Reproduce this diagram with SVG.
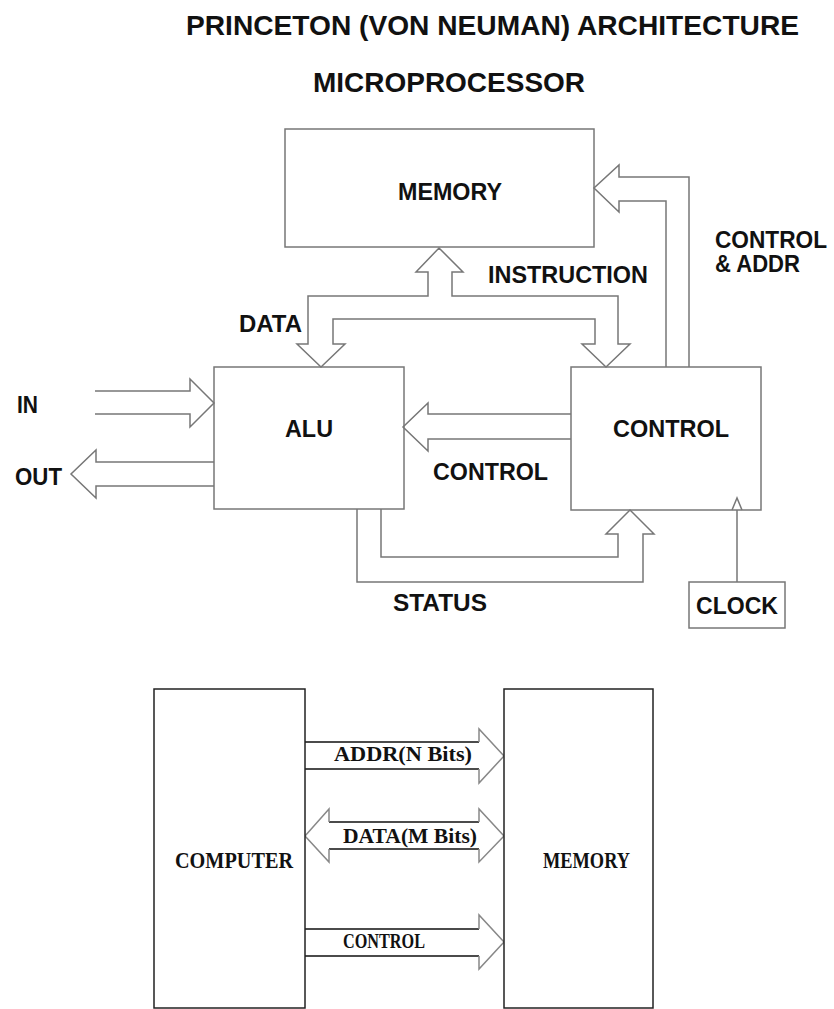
<svg xmlns="http://www.w3.org/2000/svg" width="834" height="1009" viewBox="0 0 834 1009">
<style>
.bg{fill:#fff}
.box{fill:#fff;stroke:#777;stroke-width:1.5}
.bus{fill:none;stroke:#777;stroke-width:1.5;stroke-linejoin:miter}
.lbl{font-family:"Liberation Sans",Arial,sans-serif;font-weight:bold;font-size:23px;fill:#111}
.ttl{font-family:"Liberation Sans",Arial,sans-serif;font-weight:bold;font-size:28px;fill:#111}
.box2{fill:#fff;stroke:#222;stroke-width:1.5}
.shaft{fill:none;stroke:#111;stroke-width:1.5}
.head{fill:none;stroke:#888;stroke-width:1.5}
.mono{font-family:"Liberation Serif","Times New Roman",serif;font-weight:bold;fill:#111}
</style>
<rect class="bg" x="0" y="0" width="834" height="1009"/>
<g id="titles">
<text class="ttl" x="186" y="35" textLength="613" lengthAdjust="spacingAndGlyphs">PRINCETON (VON NEUMAN) ARCHITECTURE</text>
<text class="ttl" x="313" y="92" textLength="272" lengthAdjust="spacingAndGlyphs">MICROPROCESSOR</text>
</g>
<g id="memory">
<rect class="box" x="285" y="129" width="309" height="118"/>
<text class="lbl" x="398" y="200" textLength="104" lengthAdjust="spacingAndGlyphs">MEMORY</text>
</g>
<g id="alu">
<rect class="box" x="214" y="367" width="190" height="142"/>
<text class="lbl" x="285" y="437" textLength="48" lengthAdjust="spacingAndGlyphs">ALU</text>
</g>
<g id="control">
<rect class="box" x="571" y="367" width="190" height="143"/>
<text class="lbl" x="613" y="437" textLength="116" lengthAdjust="spacingAndGlyphs">CONTROL</text>
</g>
<g id="clock">
<rect class="box" x="689" y="582" width="96" height="46"/>
<text class="lbl" x="696" y="614" textLength="82" lengthAdjust="spacingAndGlyphs">CLOCK</text>
</g>
<g id="connectors">
<path class="bus" d="M439,248 L463,272 H452 V296 H618 V344 H630 L606,367 L582,344 H595 V319 H333 V344 H345 L321,367 L297,344 H308 V296 H428 V272 H416 Z"/>
<path class="bus" d="M95,391 H190 V379 L214,403 L190,427 V414 H95"/>
<path class="bus" d="M214,462 H96 V450 L71,474 L96,498 V486 H214"/>
<path class="bus" d="M571,414 H428 V403 L403,427 L428,451 V439 H571"/>
<path class="bus" d="M381,509 V557 H618 V534 H606 L630,510 L654,534 H643 V582 H357 V509"/>
<path class="bus" d="M666,367 V201 H619 V212 L594,188 L619,165 V177 H689 V367"/>
<path class="bus" d="M737,582 V510 M732,510 L737,498 L742,510"/>
<path class="shaft" d="M305,742 H479 M305,769 H479"/>
<path class="head" d="M479,742 V729 L504,756 L479,783 V769"/>
<path class="shaft" d="M329,822 H479 M329,849 H479"/>
<path class="head" d="M479,822 V809 L504,836 L479,862 V849 M329,822 V809 L305,836 L329,862 V849"/>
<path class="shaft" d="M305,929 H479 M305,956 H479"/>
<path class="head" d="M479,929 V915 L504,942 L479,969 V956"/>
</g>
<g id="labels">
<text class="lbl" x="488" y="283" textLength="160" lengthAdjust="spacingAndGlyphs">INSTRUCTION</text>
<text class="lbl" x="239" y="332" textLength="63" lengthAdjust="spacingAndGlyphs">DATA</text>
<text class="lbl" x="17" y="413" textLength="21" lengthAdjust="spacingAndGlyphs">IN</text>
<text class="lbl" x="15" y="485" textLength="47" lengthAdjust="spacingAndGlyphs">OUT</text>
<text class="lbl" x="433" y="480" textLength="115" lengthAdjust="spacingAndGlyphs">CONTROL</text>
<text class="lbl" x="393" y="611" textLength="94" lengthAdjust="spacingAndGlyphs">STATUS</text>
<text class="lbl" x="715" y="248" textLength="112" lengthAdjust="spacingAndGlyphs">CONTROL</text>
<text class="lbl" x="715" y="272" textLength="85" lengthAdjust="spacingAndGlyphs">&amp; ADDR</text>
</g>
<g id="computer">
<rect class="box2" x="154" y="689" width="151" height="319"/>
<text class="mono" x="175" y="868" font-size="24" textLength="118" lengthAdjust="spacingAndGlyphs">COMPUTER</text>
</g>
<g id="memory2">
<rect class="box2" x="504" y="689" width="149" height="319"/>
<text class="mono" x="543" y="868" font-size="24" textLength="87" lengthAdjust="spacingAndGlyphs">MEMORY</text>
</g>
<g id="bus-labels">
<text class="mono" x="334" y="761" font-size="20" textLength="138" lengthAdjust="spacingAndGlyphs">ADDR(N Bits)</text>
<text class="mono" x="343" y="843" font-size="20" textLength="134" lengthAdjust="spacingAndGlyphs">DATA(M Bits)</text>
<text class="mono" x="343" y="948" font-size="20" textLength="82" lengthAdjust="spacingAndGlyphs">CONTROL</text>
</g>
</svg>
